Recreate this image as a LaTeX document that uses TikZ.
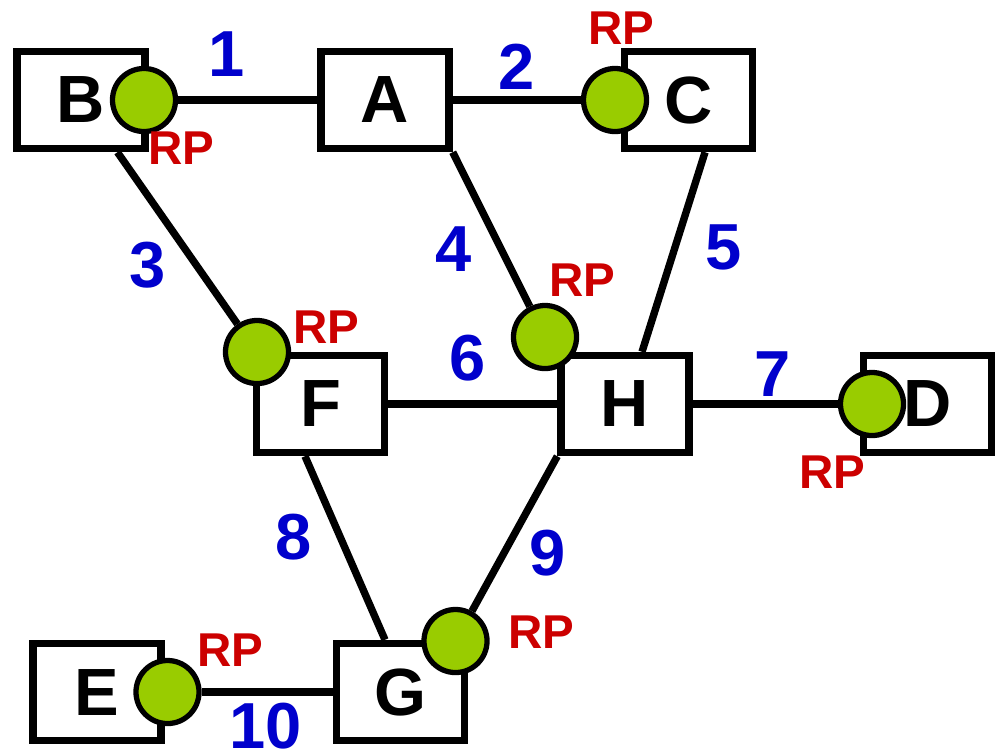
\documentclass[tikz,border=0pt]{standalone}
\usepackage{fontspec}
\setmainfont{Liberation Sans}
\definecolor{rpgreen}{HTML}{99CC00}
\definecolor{rpred}{HTML}{CC0000}
\definecolor{linkblue}{HTML}{0000CC}

\begin{document}
\begin{tikzpicture}[x=0.01cm, y=-0.01cm]
	\tikzstyle{router} = [draw, line width=2.1pt, fill=white, minimum width=1.28cm, minimum height=0.97cm, inner sep=0pt, font=\fontsize{19}{19}\selectfont\bfseries]
	\tikzstyle{rpdot} = [circle, draw, line width=1.5pt, fill=rpgreen, minimum size=0.63cm, inner sep=0pt]
	\tikzstyle{rptext} = [text=rpred, inner sep=0pt, font=\fontsize{13.5}{13.5}\selectfont\bfseries]
	\tikzstyle{linknum} = [text=linkblue, inner sep=0pt, font=\fontsize{18.5}{18.5}\selectfont\bfseries]
	\tikzstyle{link} = [line width=2.1pt]
	\useasboundingbox (0,0) rectangle (995,751);
	% routers
	\node [router] (B) at (81, 100) {B};
	\node [router] (A) at (385, 100) {A};
	\node [router] (C) at (688.5, 100) {C};
	\node [router] (F) at (320.5, 404) {F};
	\node [router] (H) at (625, 404) {H};
	\node [router] (D) at (927.5, 404) {D};
	\node [router] (E) at (97, 692) {E};
	\node [router] (G) at (400.5, 692) {G};
	% rendezvous points
	\node [rpdot] (pB) at (144, 100) {};
	\node [rpdot] (pC) at (615, 100) {};
	\node [rpdot] (pF) at (257, 352) {};
	\node [rpdot] (pH) at (545, 337) {};
	\node [rpdot] (pD) at (872, 404) {};
	\node [rpdot] (pE) at (167.5, 692) {};
	\node [rpdot] (pG) at (455.5, 641) {};
	% links
	\draw [link] (pB) -- (A);
	\draw [link] (A) -- (pC);
	\draw [link] (B) -- (pF);
	\draw [link] (A.south east) -- (pH);
	\draw [link] ([xshift=0.165cm]C.south) -- ([xshift=0.17cm]H.north);
	\draw [link] (F) -- (H);
	\draw [link] (H) -- (pD);
	\draw [link] ([xshift=-0.155cm]F.south) -- ([xshift=-0.155cm]G.north);
	\draw [link] (H.south west) -- (pG);
	\draw [link] (pE) -- (G);
	% link numbers
	\node [linknum] (n1) at (227, 54) {1};
	\node [linknum] (n2) at (517, 67) {2};
	\node [linknum] (n3) at (148, 265) {3};
	\node [linknum] (n4) at (454, 249) {4};
	\node [linknum] (n5) at (724, 247) {5};
	\node [linknum] (n6) at (468, 358) {6};
	\node [linknum] (n7) at (773, 374) {7};
	\node [linknum] (n8) at (294, 537) {8};
	\node [linknum] (n9) at (548, 553) {9};
	\node [linknum] (n10) at (266, 726) {10};
	% RP labels
	\node [rptext] (rB) at (181, 148) {RP};
	\node [rptext] (rC) at (621, 28) {RP};
	\node [rptext] (rF) at (326, 327) {RP};
	\node [rptext] (rH) at (582, 280) {RP};
	\node [rptext] (rD) at (832, 472) {RP};
	\node [rptext] (rE) at (230, 650) {RP};
	\node [rptext] (rG) at (541, 632) {RP};
\end{tikzpicture}
\end{document}
